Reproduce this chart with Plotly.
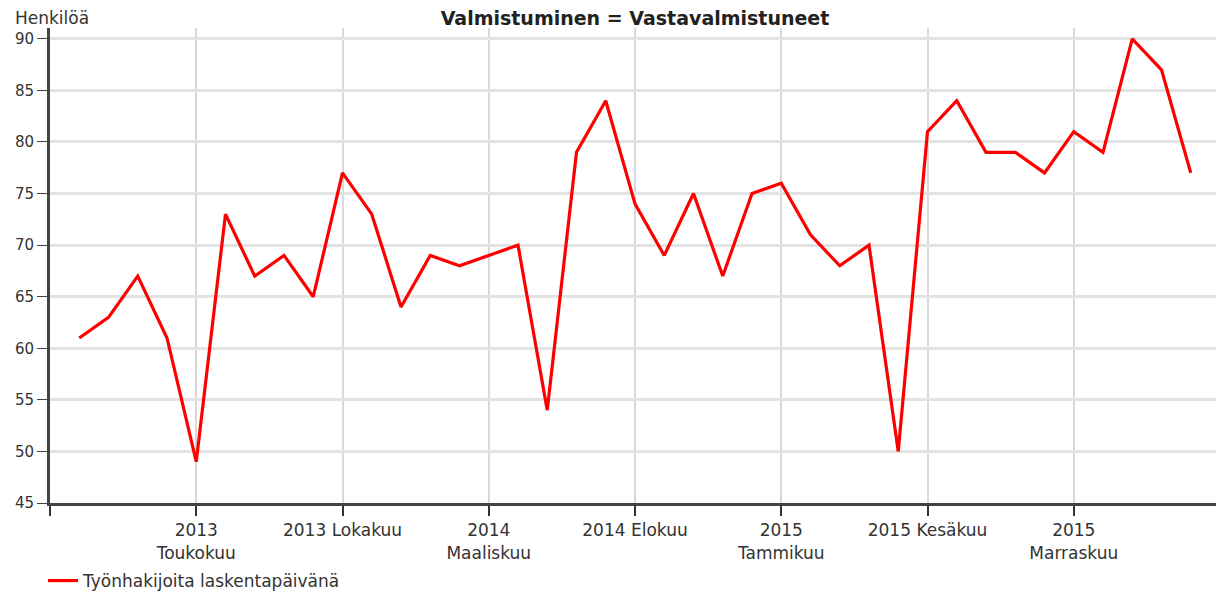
import plotly.graph_objects as go

# Kuukausittaiset havainnot, tammikuu 2013 - maaliskuu 2016
months = list(range(39))
persons = [61, 63, 67, 61, 49, 73, 67, 69, 65, 77,
           73, 64, 69, 68, 69, 70, 54, 79, 84, 74,
           69, 75, 67, 75, 76, 71, 68, 70, 50, 81,
           84, 79, 79, 77, 81, 79, 90, 87, 77]

tick_vals = [-1, 4, 9, 14, 19, 24, 29, 34, 39]
tick_text = ["", "2013<br>Toukokuu", "2013 Lokakuu", "2014<br>Maaliskuu",
             "2014 Elokuu", "2015<br>Tammikuu", "2015 Kesäkuu",
             "2015<br>Marraskuu", ""]
y_ticks = [45, 50, 55, 60, 65, 70, 75, 80, 85, 90]

FONT = 'DejaVu Sans, Verdana, sans-serif'

fig = go.Figure()
fig.add_trace(go.Scatter(
    x=months,
    y=persons,
    mode='lines',
    name='Työnhakijoita laskentapäivänä',
    line=dict(color='#ff0000', width=3.2)
))

# sivulla on 8 px reunus, joten marginaaleja on siirretty sen verran
fig.update_layout(
    width=1224,
    height=594,
    paper_bgcolor='white',
    plot_bgcolor='white',
    font=dict(family=FONT, size=14, color='#333'),
    title=dict(
        text='<b>Valmistuminen = Vastavalmistuneet</b>',
        x=(42 + 1212) / 2 / 1224,
        xanchor='center',
        xref='container',
        y=1 - 10 / 594,
        yanchor='middle',
        yref='container',
        font=dict(family=FONT, size=19, color='#222')
    ),
    margin=dict(l=42, r=12, t=20, b=99, autoexpand=False),
    showlegend=True,
    legend=dict(
        orientation='h',
        x=-7 / 1170,
        xanchor='left',
        y=-(573 - 495) / 475,
        yanchor='middle',
        font=dict(family=FONT, size=17, color='#333'),
        bgcolor='rgba(0,0,0,0)'
    ),
    xaxis=dict(
        range=[-1, 39],
        tickmode='array',
        tickvals=tick_vals,
        ticktext=tick_text,
        ticks='outside',
        ticklen=10,
        tickwidth=2,
        tickcolor='#333',
        showgrid=True,
        gridcolor='#d9d9d9',
        gridwidth=2,
        showline=True,
        linecolor='#444',
        linewidth=3,
        zeroline=False,
        automargin=False,
        tickfont=dict(family=FONT, size=17, color='#333'),
        fixedrange=True
    ),
    yaxis=dict(
        range=[45, 91.05],
        tickmode='array',
        tickvals=y_ticks,
        ticks='outside',
        ticklen=10,
        tickwidth=1,
        tickcolor='#444',
        showgrid=True,
        gridcolor='#e3e3e3',
        gridwidth=3,
        showline=True,
        linecolor='#444',
        linewidth=3,
        zeroline=False,
        automargin=False,
        tickfont=dict(family=FONT, size=15, color='#333'),
        fixedrange=True
    )
)

fig.add_annotation(
    text='Henkilöä',
    xref='paper', yref='paper',
    x=-37 / 1170, y=1.0,
    xanchor='left', yanchor='bottom',
    yshift=-2,
    showarrow=False,
    font=dict(family=FONT, size=17, color='#333')
)

fig.write_html("out.html")
